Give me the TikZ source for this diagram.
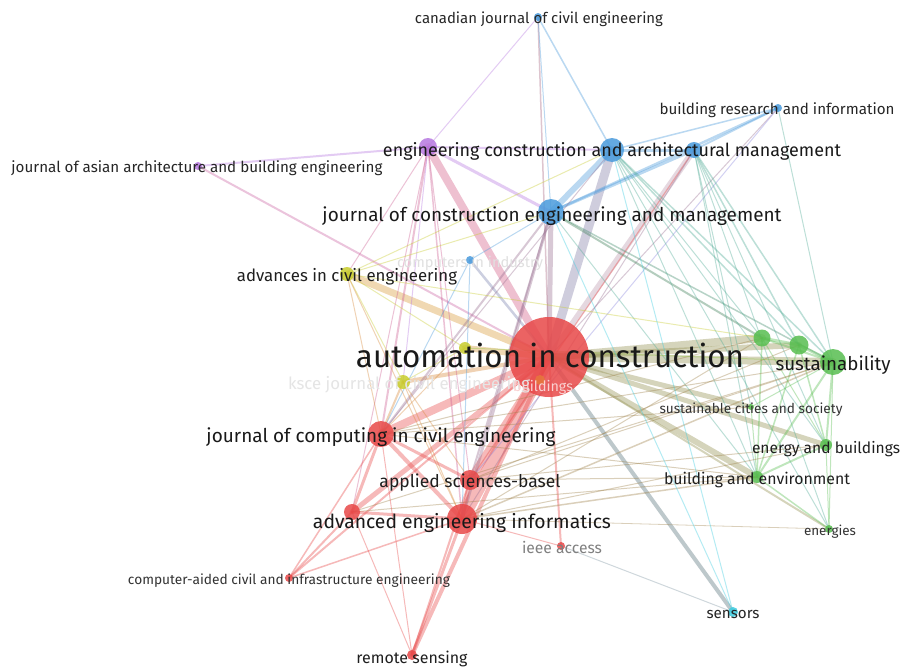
\documentclass[tikz,border=0pt]{standalone}
\usepackage{fontspec}
\setmainfont{Fira Sans}
\usepackage{graphicx}
\usetikzlibrary{backgrounds}
\definecolor{cR}{RGB}{232,72,72}
\definecolor{cG}{RGB}{88,190,80}
\definecolor{cB}{RGB}{74,155,220}
\definecolor{cP}{RGB}{183,120,225}
\definecolor{cY}{RGB}{200,205,45}
\definecolor{cC}{RGB}{60,205,225}
\definecolor{cO}{RGB}{230,120,60}
\begin{document}
\begin{tikzpicture}[x=1pt,y=-1pt,
  jn/.style={circle,inner sep=0pt,fill opacity=.85,draw=none},
  lb/.style={anchor=mid,inner sep=0pt},
  link/.style={line cap=round,draw opacity=.38},
]
% journals (circle size ~ weight)
\foreach \n/\x/\y/\d/\c in {
  aic/549/357/80/cR, sus/833/362/26/cG, gA/762/338/17/cG, gB/799/345/19/cG,
  scs/751/407/6/cG, eab/826/445/12/cG, bae/757/477/12/cG, ene/829/529/8/cG,
  cjce/538/17/8/cB, bri/778/108/8/cB, ecam/612/150/24/cB, bC/694/150/16/cB,
  jcem/551/212/26/cB, cii/470/260/8/cB, pA/428/147/18/cP, jaabe/198/166/8/cP,
  ace/347/274/14/cY, yB/465/348/12/cY, ksce/403/382/14/cY, bld/540/380/10/cO,
  jcce/381/434/26/cR, asb/470/480/20/cR, aei/462/519/30/cR, rB/352/512/16/cR,
  ieee/561/546/8/cR, cacie/289/578/8/cR, rs/412/655/10/cR, sen/733/612/10/cC}
  \node[jn,fill=\c,minimum size=\d pt] (\n) at (\x,\y) {};

\begin{pgfonlayer}{background}
\fill[white] (0,0) rectangle (903,667);
% co-citation links
\foreach \a/\b/\w/\c in {
  aic/jcem/5/cR!50!cB, aic/ecam/9/cR!35!cB, aic/bC/6/cB!45!cR!70!white, aic/pA/8/cR!60!cP,
  aic/cjce/1.5/cR!60!cB, aic/bri/1/cR!50!cB, aic/jaabe/2/cR!40!cP, aic/ace/7/cO!60!cY,
  aic/cii/2.5/cB!70!cR, aic/yB/6/cY!60!cR, aic/ksce/4/cY!50!cR, aic/bld/3/cO,
  aic/jcce/8/cR, aic/asb/8/cR, aic/aei/13/cR, aic/rB/5/cR, aic/rs/4/cR,
  aic/cacie/2/cR, aic/ieee/2/cR, aic/sen/4/cR!35!cC!70!black,
  aic/gA/8/cR!40!cG, aic/gB/6/cR!40!cG, aic/sus/8/cR!40!cG, aic/scs/5/cR!40!cG,
  aic/eab/5/cR!40!cG, aic/bae/6/cR!40!cG, aic/ene/2/cR!40!cG,
  cjce/ecam/1.5/cB, cjce/jcem/1/cB, cjce/pA/1/cP, bri/ecam/1.5/cB, bri/bC/2/cB,
  bri/jcem/2.5/cB, bri/sus/1/cB!50!cG, bri/asb/1/cP!60!cB,
  ecam/jcem/6/cB, ecam/bC/3/cB, ecam/pA/2/cP, pA/jcem/3/cP, pA/jaabe/2/cP,
  pA/ace/1/cR!50!cP, pA/jcce/2/cR!50!cP, pA/aei/1.5/cR!50!cP, pA/asb/1/cR!50!cP,
  pA/ksce/1/cP, pA/rB/1/cR!50!cP, bC/jcem/3/cB, bC/asb/1.2/cR, jcem/cii/1/cB,
  jcem/aei/3/cB!50!cR, jcem/jcce/2/cB!50!cR, jcem/asb/2/cB!50!cR, jcem/sus/1.5/cB!40!cG!80!black,
  jcem/gA/2/cB!30!cG!70!black, jcem/bae/1/cB!50!cG, jcem/ace/1/cY, cii/aei/1/cB, cii/jcce/1/cB,
  ecam/sus/1.5/cB!50!cG, ecam/gB/1.5/cB!50!cG, ecam/eab/1/cB!50!cG, ecam/bae/1/cB!50!cG,
  ecam/gA/1/cB!50!cG, ecam/ene/1/cB!50!cG, bC/sus/1.5/cB!50!cG, bC/eab/1/cB!50!cG,
  bC/bae/1/cB!50!cG, bC/gB/1.5/cB!50!cG, bC/ene/1/cB!50!cG, bC/scs/1/cB!50!cG,
  bC/aei/1/cB!50!cR, ecam/jcce/1/cB!50!cR,
  gA/gB/3/cG, gB/sus/3/cG, gA/sus/2/cG, sus/eab/2/cG, sus/bae/2/cG, gB/bae/1.5/cG,
  gA/bae/1.5/cG, eab/bae/2/cG, bae/ene/1.5/cG, eab/ene/1/cG, sus/ene/1/cG,
  gA/eab/1/cG, gB/eab/1.5/cG, scs/sus/1/cG, scs/bae/1/cG,
  sus/jcce/1/cG!50!cR, sus/aei/1.5/cG!50!cR, gA/aei/1/cG!50!cR, bae/aei/1.5/cG!50!cR,
  bae/jcce/1/cG!50!cR, bae/asb/1/cG!50!cR, eab/asb/1/cG!50!cR, gB/asb/1/cG!50!cR,
  bae/rB/1/cG!50!cR, eab/aei/1/cG!50!cR, sus/asb/1/cG!50!cR, ene/aei/.8/cG!50!cR,
  sus/rB/1/cG!50!cR, gA/jcce/1/cG!50!cR, scs/jcce/1/cG!50!cR,
  ace/ksce/1/cY, ace/yB/1/cY, ace/ecam/1/cY, ace/gA/1/cY, ace/jcce/1/cY!50!cR,
  ace/aei/1/cY!50!cR, yB/ksce/1/cY, yB/jcce/1/cY!50!cR, yB/sus/1/cY!50!cG,
  ksce/jcce/2/cY!50!cR, ksce/aei/1/cY!50!cR, ksce/asb/1/cY!50!cR,
  jcce/asb/3/cR, jcce/aei/4/cR, jcce/rB/3/cR, jcce/cacie/1.5/cR, jcce/rs/1/cR,
  asb/aei/4/cR, aei/rB/3/cR, aei/rs/3/cR, asb/rs/2/cR, rB/cacie/2/cR, aei/cacie/1.5/cR,
  aei/ieee/1/cR, ieee/sen/1/cR!40!cC, rB/rs/1/cR, sen/ecam/1/cC, sen/jcem/1/cC}
  \draw[link,line width=\w pt,draw=\c] (\a.center) -- (\b.center);
\end{pgfonlayer}

% journal titles
\foreach \n/\x/\y/\w/\s/\k/\t in {
  aic/550/357/388/30/black!90/automation in construction,
  sus/833/364/115/17/black!90/sustainability,
  jcem/552/214/459/18/black!90/journal of construction engineering and management,
  ecam/612/150/458/17/black!90/engineering construction and architectural management,
  cjce/539/18/248/13/black!85/canadian journal of civil engineering,
  bri/777/109/235/13/black!85/building research and information,
  jaabe/197/167/371/13/black!85/journal of asian architecture and building engineering,
  cii/470/262/146/13/black!12/computers in industry,
  ace/347/275/220/15/black!88/advances in civil engineering,
  ksce/409/383/242/14/black!10/ksce journal of civil engineering,
  bld/543/385/60/14/white!75!cR/buildings,
  jcce/381/436/349/17/black!90/journal of computing in civil engineering,
  asb/470/481/181/16/black!88/applied sciences-basel,
  aei/462/521/298/18/black!90/advanced engineering informatics,
  ieee/562/547/80/14/black!50/ieee access,
  cacie/289/579/322/12.5/black!80/computer-aided civil and infrastructure engineering,
  rs/412/657/111/15/black!88/remote sensing,
  sen/733/612/53/14/black!85/sensors,
  scs/751/408/183/12.5/black!80/sustainable cities and society,
  eab/826/447/148/14.5/black!88/energy and buildings,
  bae/757/478/186/14.5/black!88/building and environment,
  ene/830/530/52/12.5/black!80/energies}
  \node[lb,text=\k,font=\fontsize{\s}{\s}\selectfont] (\n-t) at (\x,{\y+0.25*\s}) {\resizebox{\w pt}{!}{\t}};

\path[use as bounding box] (0,0) rectangle (903,667);
\end{tikzpicture}
\end{document}
